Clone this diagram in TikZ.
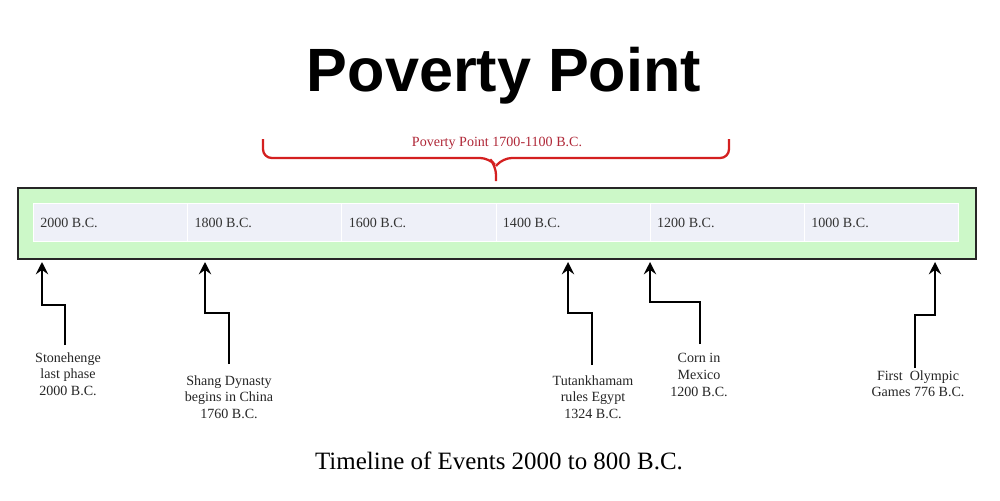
\documentclass[tikz,border=0pt]{standalone}
\usepackage{fontspec}
\setmainfont{Liberation Serif}
\newfontfamily\titlefont{Liberation Sans}
\usetikzlibrary{arrows.meta}
\definecolor{bandgreen}{HTML}{CCF8C8}
\definecolor{celllav}{HTML}{EEF0F8}
\definecolor{bracered}{HTML}{D42020}
\definecolor{bracetext}{HTML}{B02838}
\definecolor{celltext}{HTML}{333333}
\tikzset{
  cellbox/.style={draw=white, line width=0.6pt, fill=celllav, minimum width=154.2*0.02cm, minimum height=38*0.02cm, anchor=north west, inner sep=0pt},
  celllabel/.style={anchor=west, inner sep=0pt, font=\fontsize{8}{9.6}\selectfont, text=celltext},
  evlabel/.style={align=center, inner sep=0pt, font=\fontsize{8}{9.6}\selectfont, anchor=north, text=black!85},
  evarrow/.style={-{Stealth[length=7pt,width=7pt,inset=2.5pt]}, line width=1.4pt, black},
}
\begin{document}
\begin{tikzpicture}[x=0.02cm, y=-0.02cm]
\useasboundingbox[fill=white] (0,0) rectangle (1000,500);
% title
\node[font=\titlefont\bfseries\fontsize{34.8}{38}\selectfont, inner sep=0pt] (title) at (504,76) {Poverty Point};
% outer band
\node[draw=black!85, line width=0.9pt, fill=bandgreen, minimum width=958*0.02cm, minimum height=71*0.02cm, anchor=north west, inner sep=0pt] (band) at (17,187) {};
% cells
\foreach \i/\yr in {0/2000,1/1800,2/1600,3/1400,4/1200,5/1000}{
  \node[cellbox] (cell\i) at ({33+154.2*\i},203) {};
  \node[celllabel] (lab\i) at ({40+154.2*\i},223) {\yr\ B.C.};
}
% brace
\coordinate (bl) at (263,139);
\coordinate (br) at (729,139);
\coordinate (btip) at (496,181);
\draw[bracered, line width=1.3pt, rounded corners=5pt] (bl) -- (263,158) -- (489,158) -- (496,166) -- (btip);
\draw[bracered, line width=1.3pt, rounded corners=5pt] (br) -- (729,158) -- (503,158) -- (496,166);
\node[font=\fontsize{8}{9.6}\selectfont, text=bracetext, inner sep=0pt] (bracelabel) at (497,143) {Poverty Point 1700-1100 B.C.};
% arrow targets
\coordinate (t1) at (42,262);
\coordinate (t2) at (205,262);
\coordinate (t3) at (568,262);
\coordinate (t4) at (650,262);
\coordinate (t5) at (935,262);
% event labels
\node[evlabel] (e1) at (68,352) {Stonehenge\\last phase\\2000 B.C.};
\node[evlabel] (e2) at (229,375) {Shang Dynasty\\begins in China\\1760 B.C.};
\node[evlabel] (e3) at (593,375) {Tutankhamam\\rules Egypt\\1324 B.C.};
\node[evlabel] (e4) at (699,353) {Corn in\\Mexico\\1200 B.C.};
\node[evlabel] (e5) at (918,370) {First\ \ Olympic\\Games 776 B.C.};
% arrows
\draw[evarrow] (65,345) -- (65,305) -- (42,305) -- (t1);
\draw[evarrow] (229,364) -- (229,313) -- (205,313) -- (t2);
\draw[evarrow] (592,365) -- (592,313) -- (568,313) -- (t3);
\draw[evarrow] (700,344) -- (700,302) -- (650,302) -- (t4);
\draw[evarrow] (915,368) -- (915,315) -- (935,315) -- (t5);
% caption
\node[font=\fontsize{14.2}{17}\selectfont, inner sep=0pt] (caption) at (499,461) {Timeline of Events 2000 to 800 B.C.};
\end{tikzpicture}
\end{document}
